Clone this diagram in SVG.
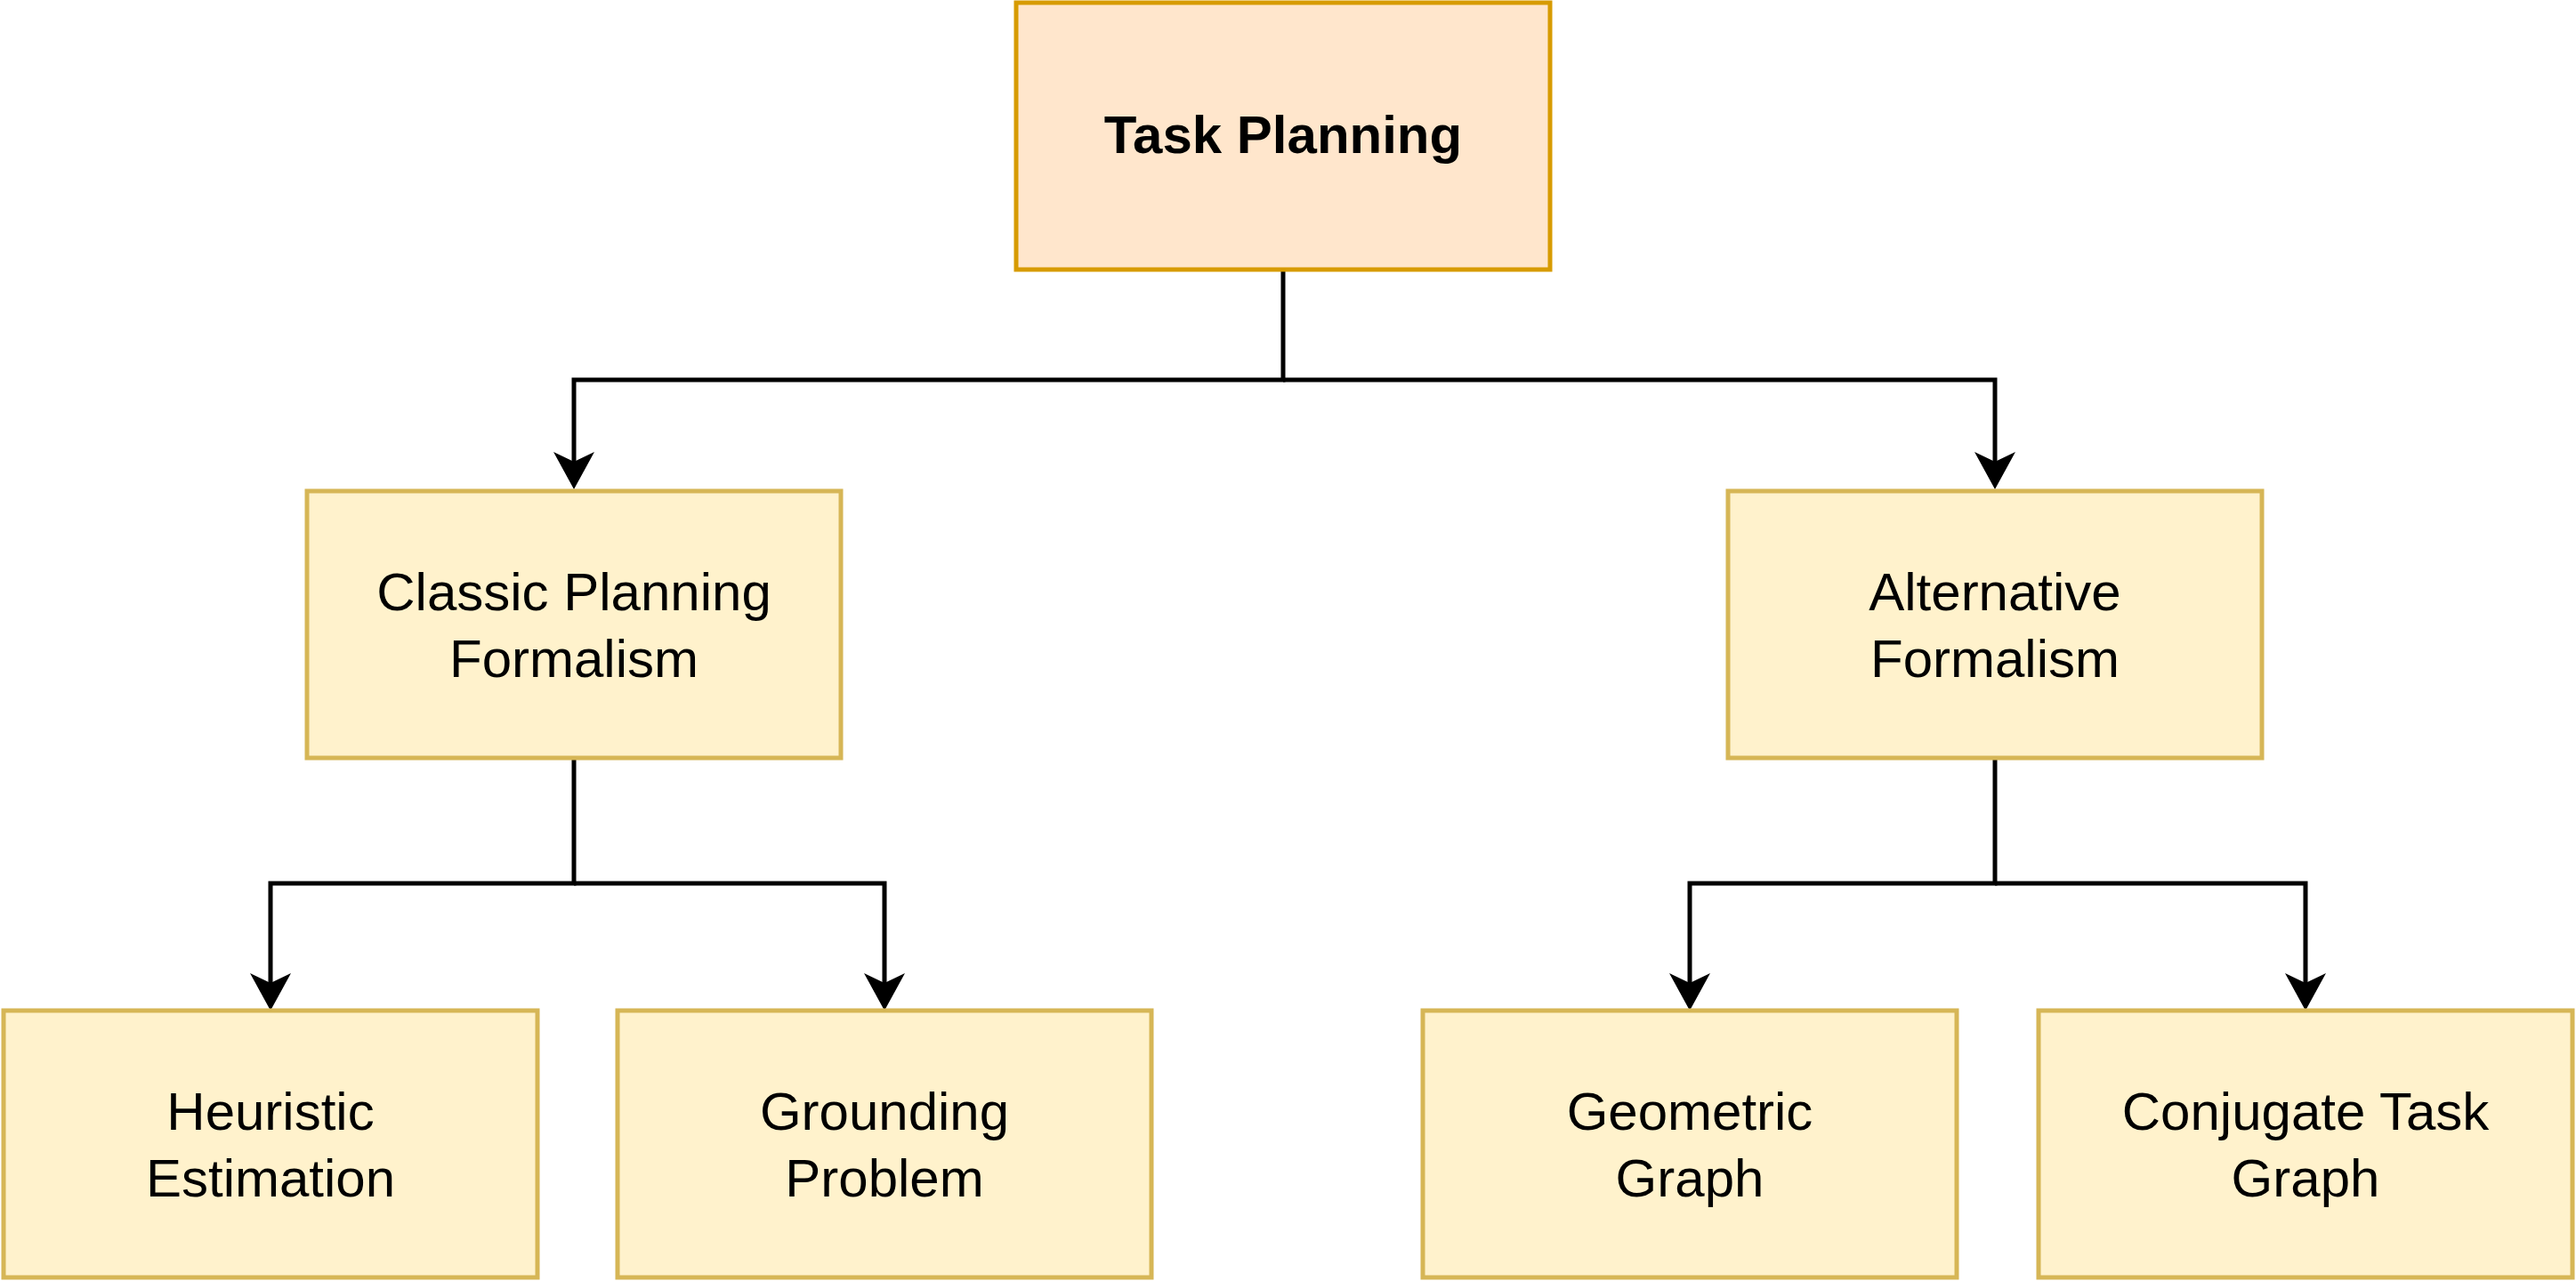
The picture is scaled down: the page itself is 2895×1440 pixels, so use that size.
<svg xmlns="http://www.w3.org/2000/svg" width="2895" height="1440" viewBox="0 0 2895 1440">
  <style>
    .root rect { fill: #ffe6cc; stroke: #d79b00; stroke-width: 5; }
    .node rect { fill: #fff2cc; stroke: #d6b656; stroke-width: 5; }
    text { font-family: "Liberation Sans", Arial, sans-serif; font-size: 60px; fill: #000; text-anchor: middle; }
    .bold { font-weight: bold; }
    .edge { fill: none; stroke: #000; stroke-width: 5; stroke-linejoin: miter; marker-end: url(#arrow); }
  </style>
  <defs>
    <marker id="arrow" markerUnits="userSpaceOnUse" viewBox="-44 -25 46 50" markerWidth="46" markerHeight="50" refX="-31" refY="0" orient="auto">
      <path d="M0,0 L-42,-23 L-31,0 L-42,23 Z" fill="#000"/>
    </marker>
  </defs>
  <rect width="2895" height="1440" fill="#ffffff"/>
  <g id="connectors">
    <path class="edge" d="M1442,303 V427 H645 V519"/>
    <path class="edge" d="M1442,427 H2242 V519"/>
    <path class="edge" d="M645,852 V993 H304 V1105"/>
    <path class="edge" d="M645,993 H994 V1105"/>
    <path class="edge" d="M2242,852 V993 H1899 V1105"/>
    <path class="edge" d="M2242,993 H2591 V1105"/>
  </g>
  <g id="task-planning" class="root">
    <rect x="1142" y="3" width="600" height="300"/>
    <text class="bold" x="1442" y="172">Task Planning</text>
  </g>
  <g id="classic-planning" class="node">
    <rect x="345" y="552" width="600" height="300"/>
    <text x="645" y="686">Classic Planning</text>
    <text x="645" y="761">Formalism</text>
  </g>
  <g id="alternative-formalism" class="node">
    <rect x="1942" y="552" width="600" height="300"/>
    <text x="2242" y="686">Alternative</text>
    <text x="2242" y="761">Formalism</text>
  </g>
  <g id="heuristic-estimation" class="node">
    <rect x="4" y="1136" width="600" height="300"/>
    <text x="304" y="1270">Heuristic</text>
    <text x="304" y="1345">Estimation</text>
  </g>
  <g id="grounding-problem" class="node">
    <rect x="694" y="1136" width="600" height="300"/>
    <text x="994" y="1270">Grounding</text>
    <text x="994" y="1345">Problem</text>
  </g>
  <g id="geometric-graph" class="node">
    <rect x="1599" y="1136" width="600" height="300"/>
    <text x="1899" y="1270">Geometric</text>
    <text x="1899" y="1345">Graph</text>
  </g>
  <g id="conjugate-task-graph" class="node">
    <rect x="2291" y="1136" width="600" height="300"/>
    <text x="2591" y="1270">Conjugate Task</text>
    <text x="2591" y="1345">Graph</text>
  </g>
</svg>
